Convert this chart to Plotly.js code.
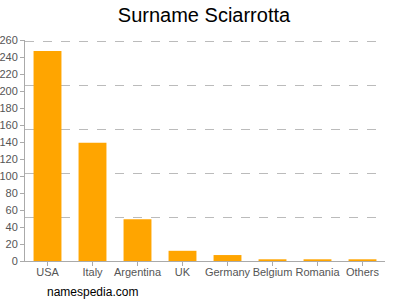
<!DOCTYPE html>
<html><head><meta charset="utf-8">
<script src="https://cdn.plot.ly/plotly-3.0.1.min.js"></script>
<style>body{margin:0;padding:0;}#c{width:400px;height:300px;}</style>
</head><body><div id="c"></div>
<script>
const countries = ["USA","Italy","Argentina","UK","Germany","Belgium","Romania","Others"];
const counts = [247,139,49,12,7,2,2,2];
const yTicks = [0,20,40,60,80,100,120,140,160,180,200,220,240,260];
const gridVals = [52,104,156,208,260];

const data = [
  {type:"bar", x:countries, y:counts, marker:{color:"#FFA500"}, hoverinfo:"x+y"},
  {type:"scatter", x:countries, y:counts, yaxis:"y2", mode:"none", showlegend:false, hoverinfo:"skip"}
];
const layout = {
  width:400, height:300,
  margin:{l:25, r:15, t:40, b:39},
  paper_bgcolor:"#fff", plot_bgcolor:"rgba(0,0,0,0)",
  showlegend:false,
  bargap:0.38,
  font:{family:"Liberation Sans, Arial, sans-serif", size:11, color:"#555"},
  title:{text:"Surname Sciarrotta", x:0.51, xanchor:"center", y:0.95, yanchor:"middle",
         font:{size:20, color:"#000", family:"Liberation Sans, Arial, sans-serif"}},
  xaxis:{showline:true, linecolor:"#aaa", linewidth:1, ticks:"outside", ticklen:4, tickcolor:"#aaa",
         ticklabelstandoff:-3, tickfont:{size:11, color:"#555"}, fixedrange:true},
  yaxis:{range:[0,260], tickvals:yTicks, showline:true, linecolor:"#aaa", linewidth:1,
         ticks:"outside", ticklen:4, tickcolor:"#aaa", showgrid:false, zeroline:false,
         tickfont:{size:11, color:"#555"}, fixedrange:true},
  yaxis2:{range:[0,262], overlaying:"y", tickvals:gridVals, showticklabels:false, showgrid:true,
          gridcolor:"#bbb", griddash:"dash", gridwidth:1, zeroline:false, showline:false, fixedrange:true},
  annotations:[{text:"namespedia.com", xref:"paper", yref:"paper", x:0.055, y:-0.14,
                xanchor:"left", yanchor:"middle", showarrow:false,
                font:{size:12, color:"#000", family:"Liberation Sans, Arial, sans-serif"}}]
};
Plotly.newPlot("c", data, layout, {displayModeBar:false, staticPlot:true});
</script></body></html>
